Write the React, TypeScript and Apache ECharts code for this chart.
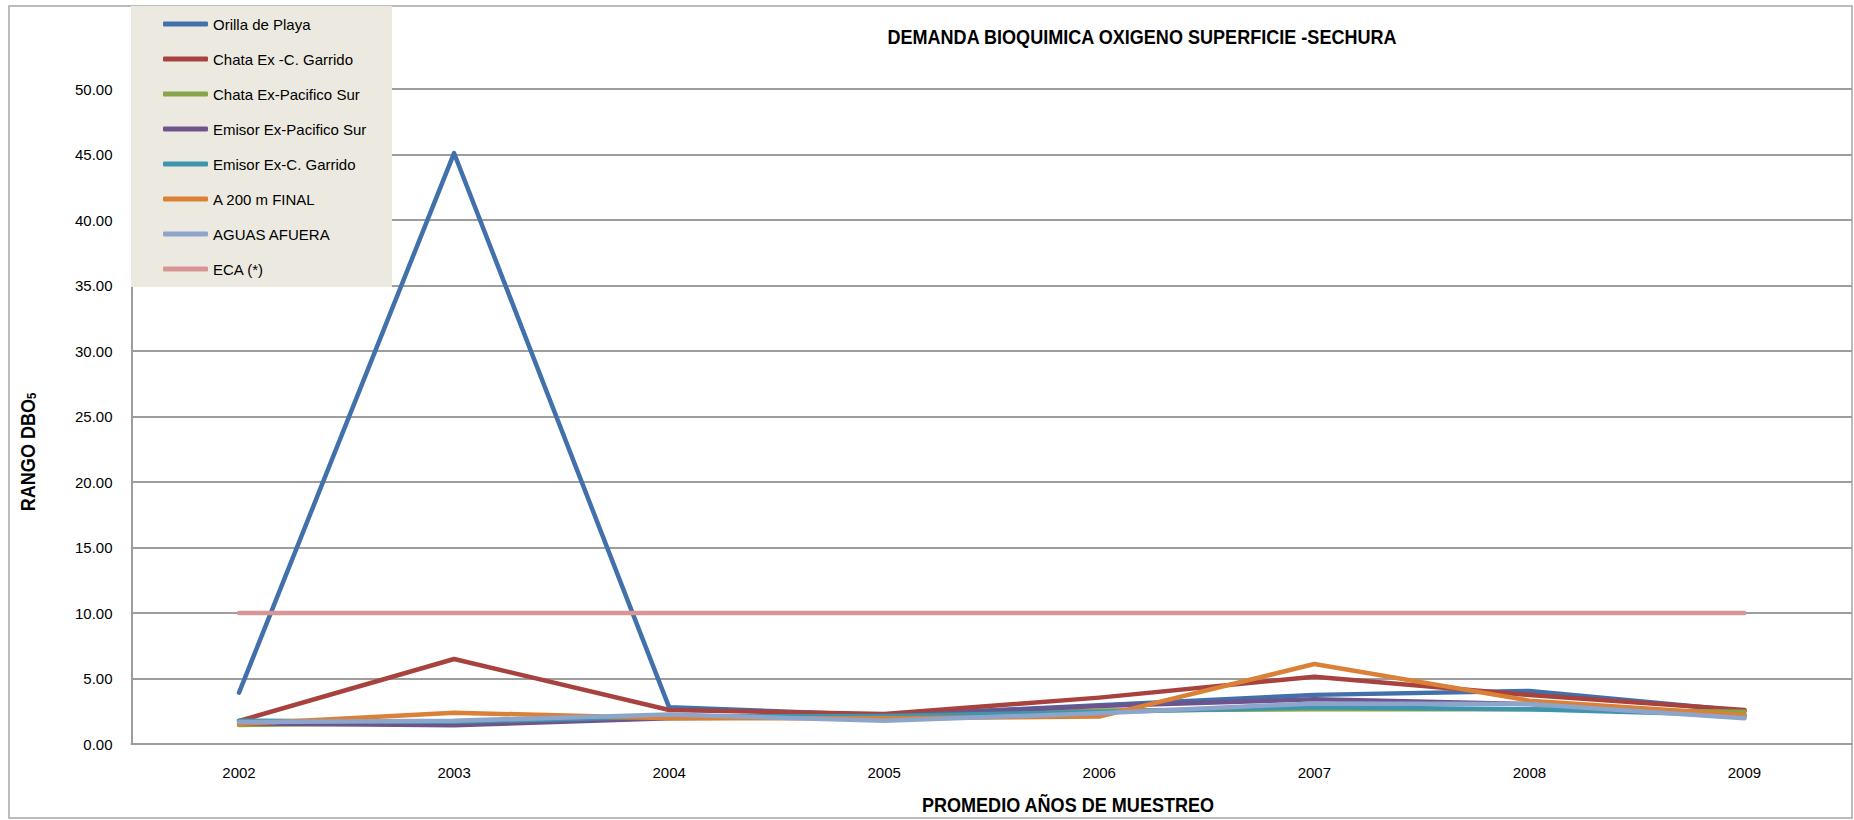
import React, { useEffect, useRef } from "react";
import * as echarts from "echarts";

const years = ["2002", "2003", "2004", "2005", "2006", "2007", "2008", "2009"];
const yTicks = [0, 5, 10, 15, 20, 25, 30, 35, 40, 45, 50];

const orillaPlaya = [3.92, 45.1, 2.8, 2.2, 2.95, 3.75, 4.05, 2.52];
const chataGarrido = [1.76, 6.49, 2.6, 2.29, 3.54, 5.14, 3.74, 2.6];
const chataPacifico = [1.45, 1.6, 2.0, 2.05, 2.55, 2.65, 2.65, 2.47];
const emisorPacifico = [1.58, 1.43, 1.96, 2.09, 2.9, 3.41, 3.05, 2.09];
const emisorGarrido = [1.78, 1.7, 2.1, 2.14, 2.44, 2.8, 2.65, 2.2];
const a200Final = [1.53, 2.39, 1.96, 1.96, 2.09, 6.11, 3.31, 2.22];
const aguasAfuera = [1.68, 1.78, 2.25, 1.78, 2.34, 3.1, 3.06, 1.96];
const eca = [10, 10, 10, 10, 10, 10, 10, 10];

const seriesDefs = [
  { name: "Orilla de Playa", data: orillaPlaya, color: "#4170AA" },
  { name: "Chata Ex -C. Garrido", data: chataGarrido, color: "#A8423F" },
  { name: "Chata Ex-Pacifico Sur", data: chataPacifico, color: "#86A44A" },
  { name: "Emisor Ex-Pacifico Sur", data: emisorPacifico, color: "#6E548D" },
  { name: "Emisor Ex-C. Garrido", data: emisorGarrido, color: "#3D96AE" },
  { name: "A 200 m FINAL", data: a200Final, color: "#DA8137" },
  { name: "AGUAS AFUERA", data: aguasAfuera, color: "#8EA5CB" },
  { name: "ECA (*)", data: eca, color: "#D79595" },
];

const FONT = "'Liberation Sans Narrow', 'Arial Narrow', 'Liberation Sans', Arial, sans-serif";
const NARROW = 0.86;

export default function App() {
  const ref = useRef<HTMLDivElement>(null);
  useEffect(() => {
    if (!ref.current) return;
    const chart = echarts.init(ref.current, undefined, { renderer: "svg" });
    chart.setOption({
      animation: false,
      backgroundColor: "#ffffff",
      grid: { left: 131.5, right: 2, top: 89, bottom: 76, containLabel: false },
      legend: {
        orient: "vertical",
        left: 163,
        top: 14,
        z: 20,
        icon: "roundRect",
        itemWidth: 45,
        itemHeight: 5,
        itemGap: 15,
        padding: 0,
        textStyle: { fontFamily: FONT, fontSize: 15, color: "#000", lineHeight: 20 },
        data: seriesDefs.map((s) => s.name),
      },
      xAxis: {
        type: "category",
        data: years,
        boundaryGap: true,
        axisLine: { show: true, lineStyle: { color: "#9D9D9D", width: 2 } },
        axisTick: { show: false },
        axisLabel: { fontFamily: FONT, fontSize: 15, color: "#000", margin: 21 },
        splitLine: { show: false },
      },
      yAxis: {
        type: "value",
        min: 0,
        max: 50,
        interval: 5,
        axisLine: { show: true, lineStyle: { color: "#9D9D9D", width: 2 } },
        axisTick: { show: false },
        axisLabel: {
          fontFamily: FONT,
          fontSize: 15,
          color: "#000",
          margin: 19,
          formatter: (v: number) => (yTicks.includes(v) ? v.toFixed(2) : ""),
        },
        splitLine: { show: true, lineStyle: { color: "#9D9D9D", width: 2 } },
      },
      graphic: [
        {
          type: "rect",
          z: -10,
          silent: true,
          shape: { x: 9, y: 6, width: 1843, height: 812 },
          style: { fill: "none", stroke: "#A6A6A6", lineWidth: 1.5 },
        },
        {
          type: "rect",
          z: 10,
          silent: true,
          shape: { x: 131, y: 6, width: 261, height: 281 },
          style: { fill: "#ECEAE0" },
        },
        {
          type: "text",
          z: 10,
          x: 1142,
          y: 36,
          scaleX: NARROW,
          style: {
            text: "DEMANDA BIOQUIMICA OXIGENO SUPERFICIE -SECHURA",
            fontFamily: FONT,
            fontSize: 21,
            fontWeight: "bold",
            fill: "#000",
            align: "center",
            verticalAlign: "middle",
          },
        },
        {
          type: "text",
          z: 10,
          x: 1068,
          y: 804,
          scaleX: NARROW,
          style: {
            text: "PROMEDIO AÑOS DE MUESTREO",
            fontFamily: FONT,
            fontSize: 21,
            fontWeight: "bold",
            fill: "#000",
            align: "center",
            verticalAlign: "middle",
          },
        },
        {
          type: "text",
          z: 10,
          x: 27,
          y: 452,
          rotation: Math.PI / 2,
          scaleX: NARROW,
          style: {
            text: "{a|RANGO DBO}{s|5}",
            align: "center",
            verticalAlign: "middle",
            rich: {
              a: { fontFamily: FONT, fontSize: 21, fontWeight: "bold", fill: "#000", color: "#000" },
              s: {
                fontFamily: FONT,
                fontSize: 13,
                fontWeight: "bold",
                fill: "#000",
                color: "#000",
                padding: [10, 0, 0, 0],
              },
            },
          },
        },
      ],
      series: seriesDefs.map((s, i) => ({
        name: s.name,
        type: "line",
        data: s.data,
        z: 2 + i * 0.01,
        showSymbol: false,
        symbol: "none",
        itemStyle: { color: s.color },
        lineStyle: { color: s.color, width: 4.5, cap: "round", join: "round" },
        emphasis: { disabled: true },
      })),
    });
    return () => chart.dispose();
  }, []);
  return (
    <div
      ref={ref}
      style={{ position: "absolute", left: 0, top: 0, width: 1854, height: 820 }}
    />
  );
}
